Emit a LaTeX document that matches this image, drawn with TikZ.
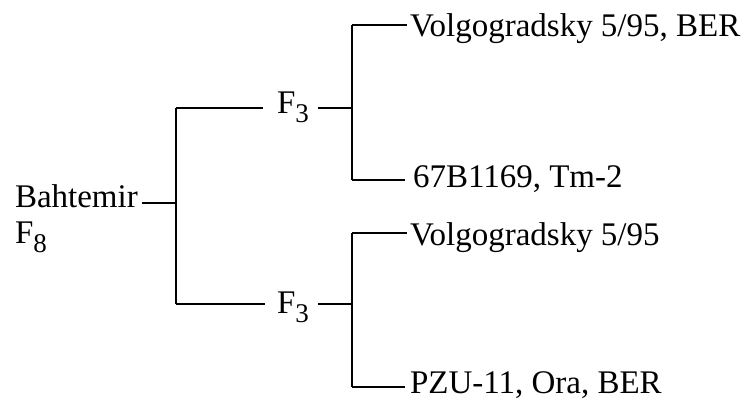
\documentclass[tikz,border=0pt]{standalone}
\usepackage{fontspec}
\setmainfont{LiberationSerif}[Extension=.ttf,UprightFont=*-Regular]
\newcommand\sbs[1]{\raisebox{-9pt}{\fontsize{27}{27}\selectfont #1}}
\begin{document}
\begin{tikzpicture}[x=1pt,y=-1pt,
  lbl/.style={anchor=base west,inner sep=0pt,outer sep=0pt,font=\fontsize{33}{36}\selectfont},
  conn/.style={line width=1.6pt}]
\useasboundingbox[fill=white] (0,0) rectangle (754,402);
% labels
\node[lbl] (root) at (15,207) {Bahtemir};
\node[lbl] (rootg) at (15,243) {F\sbs{8}};
\node[lbl] (fa) at (277,113) {F\sbs{3}};
\node[lbl] (fb) at (277,313) {F\sbs{3}};
\node[lbl] (la) at (410,36) {Volgogradsky 5/95, BER};
\node[lbl] (lb) at (413,187) {67B1169, Tm-2};
\node[lbl] (lc) at (410,245) {Volgogradsky 5/95};
\node[lbl] (ld) at (410,393) {PZU-11, Ora, BER};
% junctions
\coordinate (j0) at (176,203);
\coordinate (j0a) at (176,108);
\coordinate (j0b) at (176,304);
\coordinate (ja) at (352,108);
\coordinate (jb) at (352,304);
\coordinate (ja1) at (352,25);
\coordinate (ja2) at (352,180);
\coordinate (jb1) at (352,233);
\coordinate (jb2) at (352,387);
% connectors
\draw[conn] ([xshift=4pt]root.base east |- j0) -- (j0);
\draw[conn] (j0a) -- (j0b);
\draw[conn] (j0a) -- ([xshift=-14pt]fa.base west |- j0a);
\draw[conn] (j0b) -- ([xshift=-12pt]fb.base west |- j0b);
\draw[conn] ([xshift=9pt]fa.base east |- ja) -- (ja);
\draw[conn] ([xshift=9pt]fb.base east |- jb) -- (jb);
\draw[conn] (ja1) -- (ja2);
\draw[conn] (jb1) -- (jb2);
\draw[conn] (ja1) -- ([xshift=-3pt]la.base west |- ja1);
\draw[conn] (ja2) -- ([xshift=-8pt]lb.base west |- ja2);
\draw[conn] (jb1) -- ([xshift=-3pt]lc.base west |- jb1);
\draw[conn] (jb2) -- ([xshift=-5pt]ld.base west |- jb2);
\end{tikzpicture}
\end{document}
